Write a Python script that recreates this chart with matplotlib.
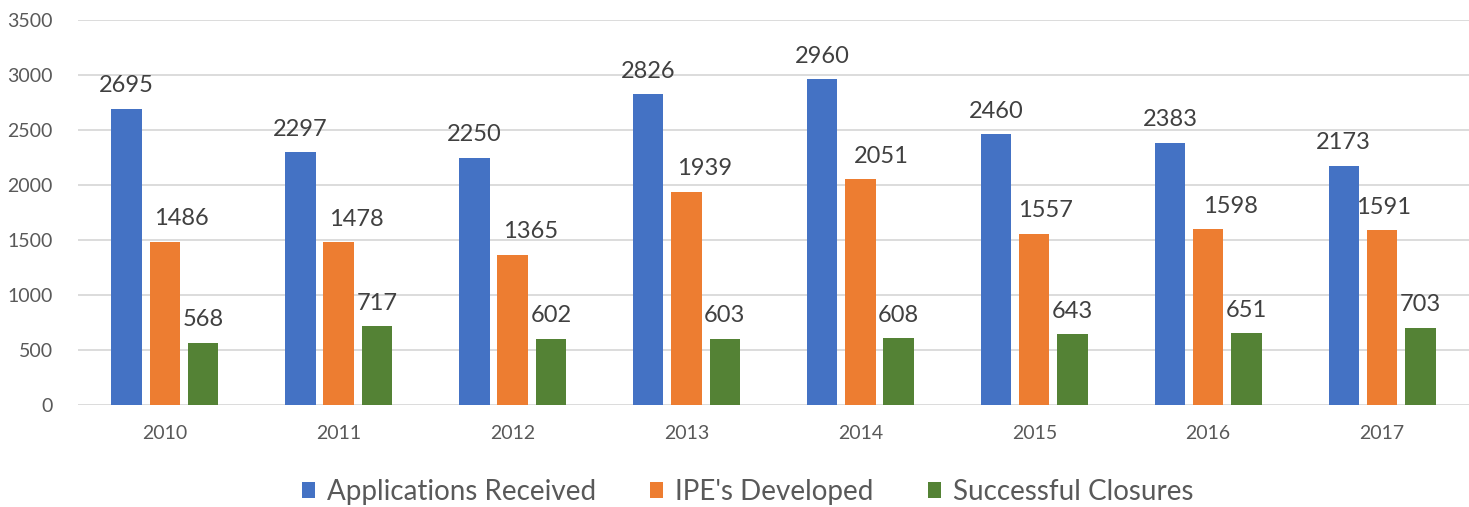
import matplotlib.pyplot as plt
import numpy as np

years = ['2010', '2011', '2012', '2013', '2014', '2015', '2016', '2017']
applications = [2695, 2297, 2250, 2826, 2960, 2460, 2383, 2173]
ipes = [1486, 1478, 1365, 1939, 2051, 1557, 1598, 1591]
closures = [568, 717, 602, 603, 608, 643, 651, 703]
series_names = ['Applications Received', "IPE's Developed", 'Successful Closures']
colors = ['#4472C4', '#ED7D31', '#548235']

# the orange labels sit a bit right of their bars in the original (points)
ipe_label_dx = [12, 13, 13, 13, 15, 8, 16, 1]

plt.rcParams['font.family'] = ['Lato', 'DejaVu Sans']

fig = plt.figure(figsize=(14.69, 5.07), dpi=100)
ax = fig.add_axes([0.053, 0.201, 0.947, 0.7596])

x = np.arange(len(years))
step = 0.22
width = 0.175
for i, (vals, name, c) in enumerate(zip([applications, ipes, closures], series_names, colors)):
    bars = ax.bar(x + (i - 1) * step, vals, width, color=c, label=name, zorder=3)
    for j, (b, v) in enumerate(zip(bars, vals)):
        dx = ipe_label_dx[j] if i == 1 else 0
        ax.annotate(str(v), (b.get_x() + b.get_width() / 2, v), xytext=(dx, 9),
                    textcoords='offset points', ha='center', va='bottom',
                    fontsize=17, color='#404040')

ax.set_xlim(-0.5, len(years) - 0.5)
ax.set_ylim(0, 3500)
ax.set_yticks(np.arange(0, 3501, 500))
ax.set_xticks(x)
ax.set_xticklabels(years)
ax.grid(axis='y', color='#D9D9D9', linewidth=1.3, zorder=0)
for s in ax.spines.values():
    s.set_visible(False)
ax.tick_params(axis='both', length=0, labelsize=14, labelcolor='#595959')
ax.tick_params(axis='x', pad=14)
ax.tick_params(axis='y', pad=18)

fig.legend(loc='center', bbox_to_anchor=(0.509, 0.03), ncol=3, frameon=False,
           fontsize=20, labelcolor='#595959', handlelength=0.47, handleheight=0.47,
           handletextpad=0.43, columnspacing=1.94)

plt.savefig('out.png', dpi=100)
